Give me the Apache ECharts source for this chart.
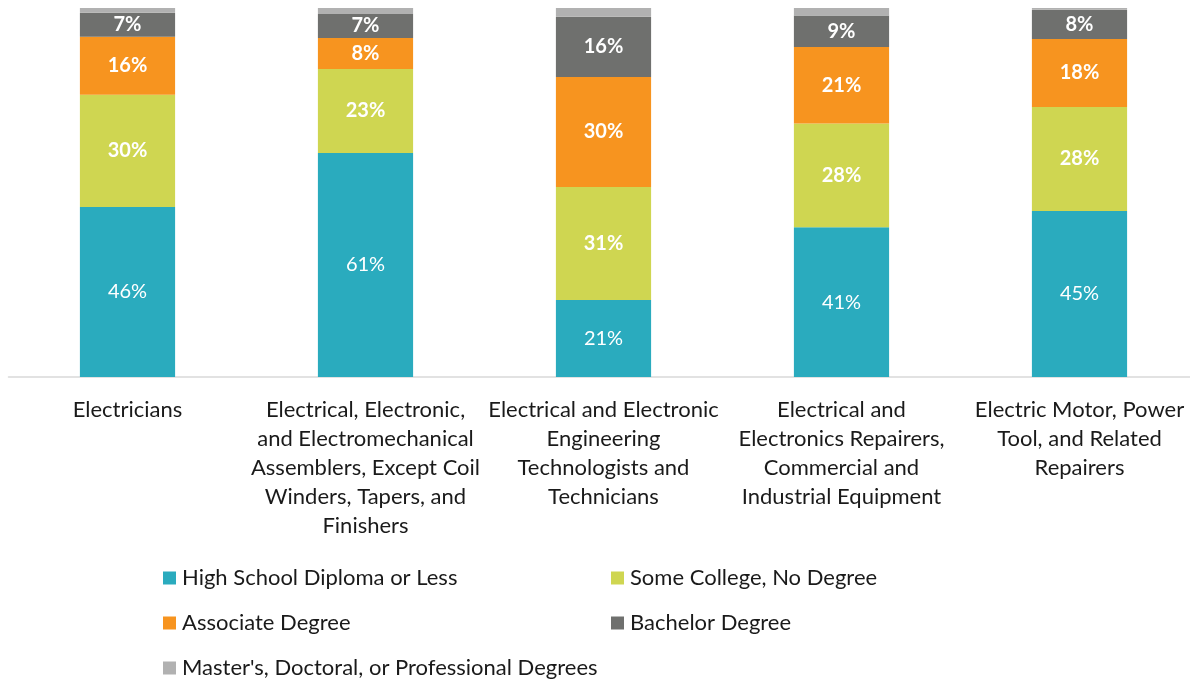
<!DOCTYPE html>
<html>
<head>
<meta charset="utf-8">
<script src="https://cdn.jsdelivr.net/npm/echarts@6/dist/echarts.min.js"></script>
<style>
html,body{margin:0;padding:0;background:#fff;}
#chart{width:1190px;height:681px;}
</style>
</head>
<body>
<div id="chart"></div>
<script>
const categories = [
  "Electricians",
  "Electrical, Electronic,\nand Electromechanical\nAssemblers, Except Coil\nWinders, Tapers, and\nFinishers",
  "Electrical and Electronic\nEngineering\nTechnologists and\nTechnicians",
  "Electrical and\nElectronics Repairers,\nCommercial and\nIndustrial Equipment",
  "Electric Motor, Power\nTool, and Related\nRepairers"
];
const seriesNames = [
  "High School Diploma or Less",
  "Some College, No Degree",
  "Associate Degree",
  "Bachelor Degree",
  "Master's, Doctoral, or Professional Degrees"
];
const highSchool = [46.1, 60.7, 20.9, 40.6, 45.0];
const someCollege = [30.4, 22.8, 30.6, 28.1, 28.2];
const associate = [15.7, 8.4, 29.8, 20.7, 18.4];
const bachelor = [6.5, 6.5, 16.3, 8.6, 7.9];
const masters = [1.3, 1.6, 2.4, 2.0, 0.5];

const colors = ["#2aabbe", "#cfd651", "#f7941f", "#6f706e", "#b1b1b1"];
const FONT = "Lato, 'Open Sans', sans-serif";

const seriesData = [highSchool, someCollege, associate, bachelor, masters];

const chart = echarts.init(document.getElementById('chart'));

const series = seriesData.map((d, i) => ({
  name: seriesNames[i],
  type: 'bar',
  stack: 'total',
  barWidth: '40%',
  data: d,
  itemStyle: { color: colors[i] },
  label: {
    show: i < 4,
    position: 'inside',
    color: '#ffffff',
    fontFamily: FONT,
    fontSize: 20,
    fontWeight: i === 0 ? 'normal' : 'bold',
    formatter: p => Math.round(p.value) + '%'
  },
  emphasis: { disabled: true }
}));

const legendPos = [
  { left: 163, top: 567 },
  { left: 611, top: 567 },
  { left: 163, top: 612 },
  { left: 611, top: 612 },
  { left: 163, top: 657 }
];
const legends = seriesNames.map((n, i) => ({
  data: [n],
  left: legendPos[i].left,
  top: legendPos[i].top,
  padding: 0,
  icon: 'rect',
  itemWidth: 13,
  itemHeight: 13,
  itemGap: 6,
  selectedMode: false,
  textStyle: { fontFamily: FONT, fontSize: 22, lineHeight: 22, color: '#1a1a1a', padding: [0,0,0,1] }
}));

chart.setOption({
  animation: false,
  color: colors,
  grid: { left: 8.5, width: 1190, top: 8, height: 369, containLabel: false, outerBoundsMode: 'none' },
  legend: legends,
  xAxis: {
    type: 'category',
    data: categories,
    axisLine: { lineStyle: { color: '#d9d9d9', width: 1.5 } },
    axisTick: { show: false },
    axisLabel: {
      interval: 0,
      margin: 18,
      fontFamily: FONT,
      fontSize: 22,
      lineHeight: 29,
      color: '#1a1a1a',
      align: 'center'
    }
  },
  yAxis: {
    type: 'value',
    min: 0,
    max: 100,
    show: false,
    splitLine: { show: false }
  },
  series: series
});
</script>
</body>
</html>
